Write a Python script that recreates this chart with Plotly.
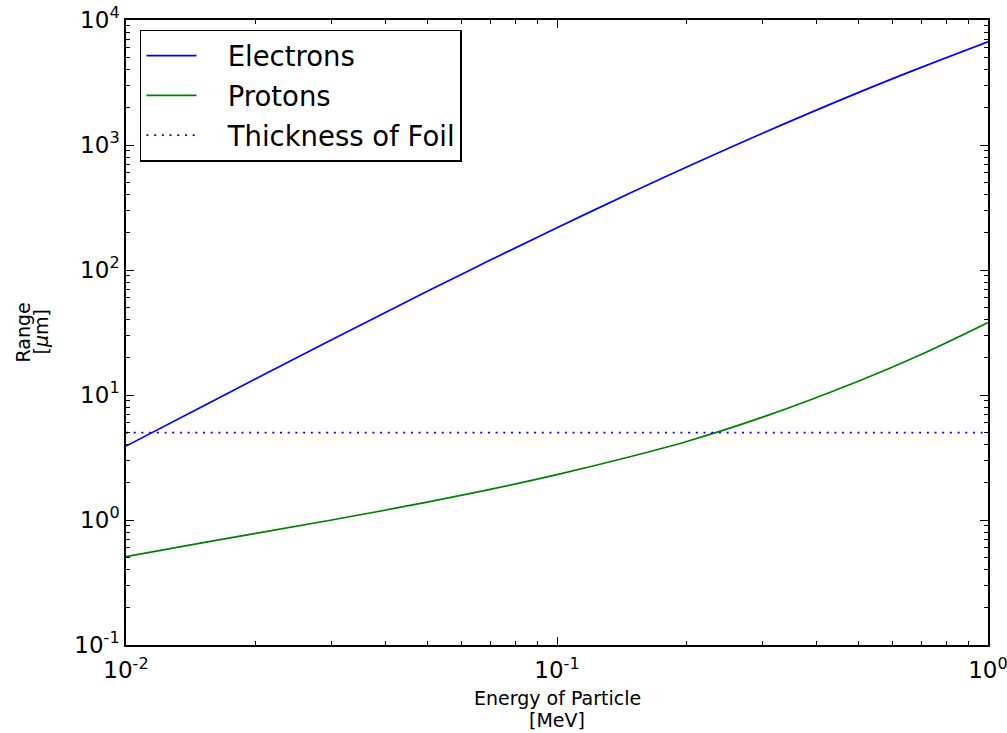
import plotly.graph_objects as go

energy_mev = [0.01, 0.015, 0.02, 0.03, 0.05, 0.07, 0.1, 0.15, 0.2, 0.3, 0.5, 0.7, 1.0]
electron_range_um = [3.9, 8.07, 13.5, 27.7, 67.5, 120, 218, 422, 667, 1243, 2625, 4180, 6700]
proton_range_um = [0.51, 0.656, 0.781, 1.00, 1.39, 1.76, 2.31, 3.25, 4.25, 6.65, 12.9, 21.1, 38.0]
foil_energy = [0.01, 1.0]
foil_thickness_um = [5, 5]

x_tickvals = [0.01, 0.1, 1]
x_ticktext = ["10<sup>-2</sup>", "10<sup>-1</sup>", "10<sup>0</sup>"]
y_tickvals = [0.1, 1, 10, 100, 1000, 10000]
y_ticktext = ["10<sup>-1</sup>", "10<sup>0</sup>", "10<sup>1</sup>", "10<sup>2</sup>", "10<sup>3</sup>", "10<sup>4</sup>"]

x_minor = [k * 10.0 ** e for e in (-2, -1) for k in range(2, 10)]
y_minor = [k * 10.0 ** e for e in (-1, 0, 1, 2, 3) for k in range(2, 10)]

font = "DejaVu Sans"
pad = "\u00a0\u00a0\u00a0"

fig = go.Figure()
fig.add_trace(go.Scatter(x=energy_mev, y=electron_range_um, mode="lines", name=pad + "Electrons",
                         legendgroup="e",
                         line=dict(color="#0000ff", width=1.7, shape="spline")))
fig.add_trace(go.Scatter(x=energy_mev, y=proton_range_um, mode="lines", name=pad + "Protons",
                         legendgroup="p",
                         line=dict(color="#008000", width=1.7, shape="spline")))
fig.add_trace(go.Scatter(x=foil_energy, y=foil_thickness_um, mode="lines", name=pad + "Thickness of Foil",
                         legendgroup="f",
                         line=dict(color="#0000ff", width=1.7, dash="2px,5.7px")))

axis_common = dict(
    type="log", showgrid=False, zeroline=False, automargin=False,
    showline=True, linecolor="black", linewidth=1.5, mirror="allticks",
    ticks="inside", ticklen=8, tickwidth=1, tickcolor="black",
    ticklabeloverflow="allow",
    tickfont=dict(family=font, size=23, color="black"),
)

fig.update_xaxes(**axis_common, range=[-2, 0], tickvals=x_tickvals, ticktext=x_ticktext,
                 ticklabelstandoff=4,
                 minor=dict(ticks="inside", ticklen=4, tickwidth=1, tickcolor="black", tickvals=x_minor))
fig.update_yaxes(**axis_common, range=[-1, 4], tickvals=y_tickvals, ticktext=y_ticktext,
                 minor=dict(ticks="inside", ticklen=4, tickwidth=1, tickcolor="black", tickvals=y_minor))

title_font = dict(family=font, size=19, color="black")
annotations = [
    dict(text="Energy of Particle", x=0.5, y=0, xref="paper", yref="paper",
         xanchor="center", yanchor="middle", yshift=-53, showarrow=False, font=title_font),
    dict(text="[MeV]", x=0.5, y=0, xref="paper", yref="paper",
         xanchor="center", yanchor="middle", yshift=-75, showarrow=False, font=title_font),
    dict(text="Range", x=0, y=0.5, xref="paper", yref="paper", textangle=-90,
         xanchor="center", yanchor="middle", xshift=-104, showarrow=False, font=title_font),
    dict(text="[<i>μ</i>m]", x=0, y=0.5, xref="paper", yref="paper", textangle=-90,
         xanchor="center", yanchor="middle", xshift=-86, showarrow=False, font=title_font),
]

fig.update_layout(
    width=1007, height=733,
    margin=dict(l=126, r=19, t=20, b=88),
    plot_bgcolor="white", paper_bgcolor="white",
    font=dict(family=font, color="black"),
    showlegend=True,
    annotations=annotations,
    legend=dict(x=0.0162, y=0.9845, xanchor="left", yanchor="top",
                bgcolor="white", bordercolor="black", borderwidth=1.5,
                font=dict(family=font, size=27.5, color="black"),
                itemwidth=50, tracegroupgap=1),
)

fig.write_html("out.html")
